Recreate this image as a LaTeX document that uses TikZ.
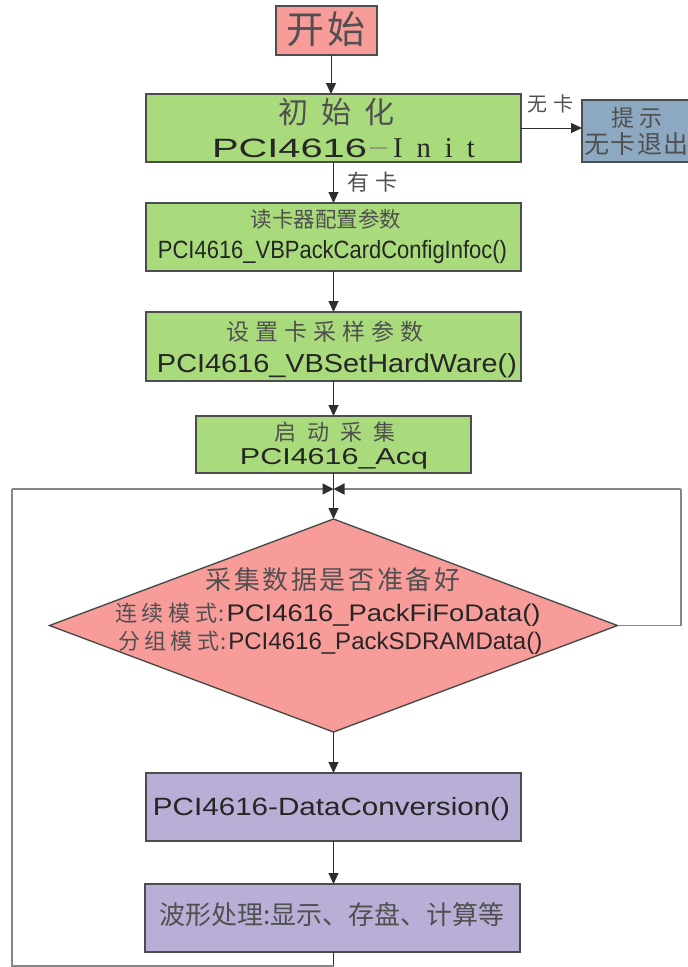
\documentclass[tikz,border=0pt]{standalone}
\usepackage{fontspec}
\setmainfont{Liberation Sans}
\newfontfamily\cjk{Noto Sans CJK SC}
\newfontfamily\serifinit{Liberation Serif}
\usepackage{graphicx}
\usetikzlibrary{arrows.meta,shapes.geometric}

\definecolor{pinkfill}{HTML}{F89C9A}
\definecolor{greenfill}{HTML}{A9DB7C}
\definecolor{bluefill}{HTML}{8DA9C2}
\definecolor{purplefill}{HTML}{B9AED6}
\definecolor{boxline}{HTML}{4D4D4D}
\definecolor{connline}{HTML}{2E2E2E}
\definecolor{loopgray}{HTML}{858585}
\definecolor{textdark}{HTML}{262626}
\definecolor{cjkgray}{HTML}{505050}
\definecolor{dashgray}{HTML}{8E9C84}

\newcommand\hfit[2]{\resizebox{#1}{\height}{#2}}
\newcommand\cjkt[3]{{\fontsize{#1pt}{#1pt}\selectfont\cjk\addfontfeature{LetterSpace=#2}#3}}
\newcommand\lat[1]{\fontsize{#1pt}{#1pt}\selectfont}

\tikzset{
  flowbox/.style={draw=boxline, line width=1.4pt, inner sep=0pt, outer sep=0pt},
  conn/.style={draw=connline, line width=1pt, -{Triangle[length=11pt,width=10pt]}},
  plainconn/.style={draw=connline, line width=1pt},
  loopline/.style={draw=loopgray, line width=1.5pt},
  looparrow/.style={draw=loopgray, line width=1.5pt, -{Triangle[length=11pt,width=11pt,color=connline]}},
  txt/.style={inner sep=0pt, outer sep=0pt, text=textdark},
  ctxt/.style={inner sep=0pt, outer sep=0pt, text=cjkgray},
}

\begin{document}
\begin{tikzpicture}[x=1pt, y=-1pt]
\useasboundingbox (0,0) rectangle (688,967);
\clip (0,0) rectangle (688,967);

% boxes
\node[flowbox, fill=pinkfill, minimum width=101pt, minimum height=49pt] (start) at (326.5,30.5) {};
\node[flowbox, fill=greenfill, minimum width=375pt, minimum height=68pt] (init) at (333.5,128) {};
\node[flowbox, fill=bluefill, minimum width=110pt, minimum height=62pt] (tip) at (637,131) {};
\node[flowbox, fill=greenfill, minimum width=375pt, minimum height=68pt] (reader) at (333.5,237) {};
\node[flowbox, fill=greenfill, minimum width=375pt, minimum height=69pt] (setbox) at (333.5,346.5) {};
\node[flowbox, fill=greenfill, minimum width=275pt, minimum height=57pt] (acq) at (333.5,444.5) {};
\node[flowbox, shape=diamond, fill=pinkfill, minimum width=568pt, minimum height=213pt] (dia) at (333.5,625.5) {};
\node[flowbox, fill=purplefill, minimum width=375pt, minimum height=68pt] (dc) at (333.5,807) {};
\node[flowbox, fill=purplefill, minimum width=375pt, minimum height=68pt] (wave) at (332.5,918) {};

% texts
\node[ctxt] (tStart) at (326.5,29) {\cjkt{38}{8}{开始}};
\node[ctxt] (tInit1) at (336.5,112) {\cjkt{30}{42}{初始化}};
\node[txt, anchor=base west] (tInit2) at (212,157) {\lat{26.5}\hfit{155pt}{PCI4616}\kern3pt\textcolor{dashgray}{\rule[8pt]{17pt}{2pt}}\kern6pt{\serifinit\fontsize{28.7pt}{28.7pt}\selectfont I\kern14pt n\kern14pt i\kern14pt t}};
\node[ctxt, anchor=west] (tYes) at (347,182) {\cjkt{22}{30}{有卡}};
\node[ctxt, anchor=west] (tNo) at (527,104) {\cjkt{20}{30}{无卡}};
\node[ctxt] (tTip1) at (637,117.5) {\cjkt{23}{25}{提示}};
\node[ctxt, anchor=west] (tTip2) at (584,143.5) {\cjkt{25}{6}{无卡退出}};
\node[ctxt] (tRead1) at (326,219) {\cjkt{21.5}{0}{读卡器配置参数}};
\node[txt, anchor=base] (tRead2) at (332.5,258) {\lat{25}\hfit{349pt}{PCI4616\_VBPackCardConfigInfoc()}};
\node[ctxt] (tSet1) at (325,331.5) {\cjkt{23}{26}{设置卡采样参数}};
\node[txt, anchor=base] (tSet2) at (337,372) {\lat{26}\hfit{360pt}{PCI4616\_VBSetHardWare()}};
\node[ctxt] (tAcq1) at (335,432) {\cjkt{22}{50}{启动采集}};
\node[txt, anchor=base] (tAcq2) at (334,464) {\lat{23}\hfit{188pt}{PCI4616\_Acq}};
\node[ctxt] (tDia1) at (333,580) {\cjkt{26}{10}{采集数据是否准备好}};
\node[txt, anchor=base west] (tDia2) at (115,621) {\textcolor{cjkgray}{\cjkt{22}{22}{连续模式}\kern1pt\cjkt{22}{0}{:}}\kern2pt\lat{24}\hfit{314pt}{PCI4616\_PackFiFoData()}};
\node[txt, anchor=base west] (tDia3) at (118,649) {\textcolor{cjkgray}{\cjkt{22}{20}{分组模式}\kern1pt\cjkt{22}{0}{:}}\kern2pt\lat{24}\hfit{314pt}{PCI4616\_PackSDRAMData()}};
\node[txt, anchor=base] (tDc) at (331.5,815) {\lat{25}\hfit{357pt}{PCI4616-DataConversion()}};
\node[ctxt] (tWave) at (332,914.5) {\cjkt{26}{0}{波形处理:显示、存盘、计算等}};

% connectors
\coordinate (J) at (333.5,489);
\coordinate (bot) at (333.5,966);
\coordinate (bl) at (12,966);
\coordinate (tl) at (12,489);
\coordinate (tr) at (681,489);

\draw[conn] (start.south -| 331,0) -- (331,0 |- init.north);
\draw[conn] (init.east) -- (init.east -| tip.west);
\draw[conn] (init.south) -- (reader.north);
\draw[conn] (reader.south) -- (setbox.north);
\draw[conn] (setbox.south) -- (acq.north);
\draw[plainconn] (acq.south) -- (J);
\draw[conn] (J) -- (dia.north);
\draw[conn] (dia.south) -- (dc.north);
\draw[conn] (dc.south) -- (dc.south |- wave.north);
\draw[plainconn] (wave.south -| bot) -- (bot);
\draw[loopline] (bot) -- (bl) -- (tl);
\draw[looparrow] (tl) -- (J);
\draw[loopline] (dia.east) -- (dia.east -| tr) -- (tr);
\draw[looparrow] (tr) -- (J);
\end{tikzpicture}
\end{document}
